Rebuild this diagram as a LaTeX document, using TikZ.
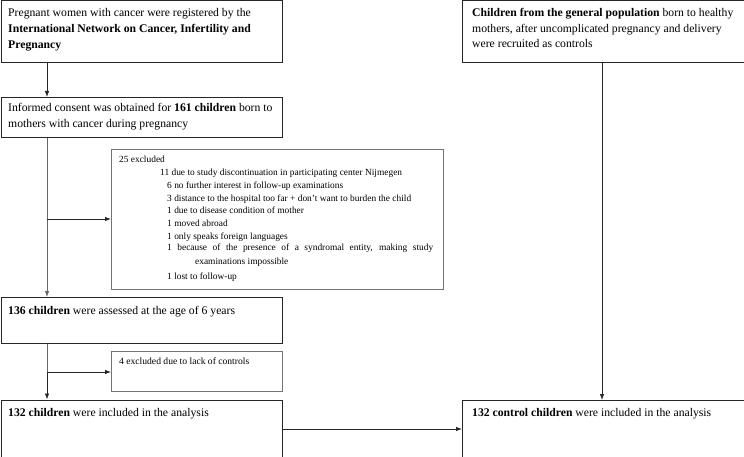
\documentclass[tikz,border=0pt]{standalone}
\usepackage{fontspec}
\setmainfont{Liberation Serif}
\usetikzlibrary{arrows.meta,calc}
\begin{document}
\begin{tikzpicture}[x=1pt,y=-1pt,
  box/.style={draw=black!85, line width=0.8pt, anchor=north west, inner sep=0pt},
  graybox/.style={draw=black!55, line width=0.8pt, anchor=north west, inner sep=0pt},
  maintxt/.style={anchor=base west, inner sep=0pt, font=\fontsize{11.7}{15}\selectfont},
  smalltxt/.style={anchor=base west, inner sep=0pt, font=\fontsize{9.4}{12}\selectfont},
  conn/.style={line width=0.8pt, draw=black!85, -{Latex[length=6pt,width=4.5pt]}},
  trunk/.style={line width=0.8pt, draw=black!60}]
\useasboundingbox (0,0) rectangle (744,457);
% boxes
\node[box, minimum width=281.5pt, minimum height=61.5pt] (A) at (0.5,0.5) {};
\node[box, minimum width=281.5pt, minimum height=40pt] (B) at (0.5,97) {};
\node[graybox, minimum width=332pt, minimum height=140pt] (X) at (111,149) {};
\node[box, minimum width=281.5pt, minimum height=46pt] (D) at (0.5,297) {};
\node[graybox, minimum width=171pt, minimum height=40pt] (Y) at (111,351) {};
\node[box, minimum width=281.5pt, minimum height=57pt] (E) at (0.5,399.5) {};
\node[box, minimum width=281.5pt, minimum height=61.5pt] (C) at (462,0.5) {};
\node[box, minimum width=281.5pt, minimum height=56.5pt] (F) at (462,400) {};
% texts
\node[maintxt] (a1) at (8,17) {Pregnant women with cancer were registered by the};
\node[maintxt] (a2) at (8,33) {\textbf{International Network on Cancer, Infertility and}};
\node[maintxt] (a3) at (8,48.5) {\textbf{Pregnancy}};
\node[maintxt] (b1) at (8,112) {Informed consent was obtained for \textbf{161 children} born to};
\node[maintxt] (b2) at (8,127.5) {mothers with cancer during pregnancy};
\node[maintxt] (c1) at (472,17) {\textbf{Children from the general population} born to healthy};
\node[maintxt] (c2) at (472,32.5) {mothers, after uncomplicated pregnancy and delivery};
\node[maintxt] (c3) at (472,48) {were recruited as controls};
\node[maintxt] (d1) at (8,314) {\textbf{136 children} were assessed at the age of 6 years};
\node[maintxt] (e1) at (8,416) {\textbf{132 children} were included in the analysis};
\node[maintxt] (f1) at (472,416) {\textbf{132 control children} were included in the analysis};
\node[smalltxt] (x1) at (119,163) {25 excluded};
\node[smalltxt] (x2) at (160,176) {11 due to study discontinuation in participating center Nijmegen};
\node[smalltxt] (x3) at (167,189) {6 no further interest in follow-up examinations};
\node[smalltxt] (x4) at (167,201) {3 distance to the hospital too far + don’t want to burden the child};
\node[smalltxt] (x5) at (167,214) {1 due to disease condition of mother};
\node[smalltxt] (x6) at (167,226) {1 moved abroad};
\node[smalltxt] (x7) at (167,239) {1 only speaks foreign languages};
\node[smalltxt] (x8) at (167,251) {\makebox[266pt][s]{1 because of the presence of a syndromal entity, making study}};
\node[smalltxt] (x9) at (195,264) {examinations impossible};
\node[smalltxt] (x10) at (167,279) {1 lost to follow-up};
\node[smalltxt, font=\fontsize{9.6}{12}\selectfont] (y1) at (119,364) {4 excluded due to lack of controls};
% connectors
\coordinate (t1) at (47,219);
\coordinate (t2) at (47,372);
\draw[conn] (A.south -| 47,0) -- (B.north -| 47,0);
\draw[trunk] (B.south -| t1) -- (t1);
\draw[conn, draw=black!60] (t1) -- (D.north -| t1);
\draw[conn] (t1) -- (X.west |- t1);
\draw[trunk] (D.south -| t2) -- (t2);
\draw[conn] (t2) -- (E.north -| t2);
\draw[conn] (t2) -- (Y.west |- t2);
\draw[conn] (C.south -| 602,0) -- (F.north -| 602,0);
\draw[conn] (E.east |- 0,429) -- (F.west |- 0,429);
\end{tikzpicture}
\end{document}
